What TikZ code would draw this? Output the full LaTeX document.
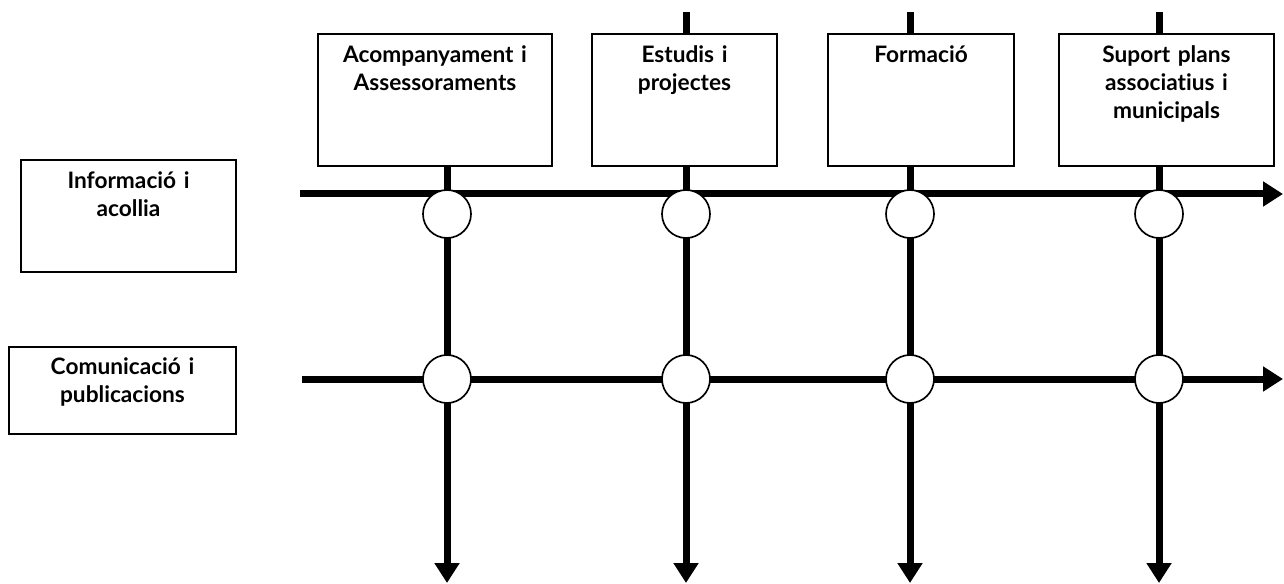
\documentclass[tikz,border=0pt]{standalone}
\usepackage{fontspec}
\setmainfont{Lato}[RawFeature={-liga;-clig;-dlig;-calt}]
\usetikzlibrary{arrows.meta, positioning}

\begin{document}
\begin{tikzpicture}[
  x=0.75pt, y=-0.75pt,
  every node/.style={font=\fontsize{17}{21}\selectfont\bfseries},
  tbox/.style={rectangle, draw, line width=1.5pt, fill=white, inner sep=0pt, align=center, anchor=north, text height=21.75pt, text depth=77.25pt},
  lbox/.style={rectangle, draw, line width=1.5pt, fill=white, inner sep=0pt, align=center, anchor=north},
  junc/.style={circle, draw, line width=1.25pt, fill=white, inner sep=0pt, minimum size=36pt},
  axis/.style={line width=5.25pt, -{Triangle[width=18pt, length=15pt]}},
]
\useasboundingbox (0,0) rectangle (1284,584);

% Line ends
\coordinate (top1) at (447,165);
\coordinate (top2) at (686,12);
\coordinate (top3) at (910,12);
\coordinate (top4) at (1159,12);
\coordinate (bot1) at (447,583);
\coordinate (bot2) at (686,583);
\coordinate (bot3) at (910,583);
\coordinate (bot4) at (1159,583);
\coordinate (hs1) at (300,194);
\coordinate (he1) at (1283,194);
\coordinate (hs2) at (302,379);
\coordinate (he2) at (1283,379);

% Axes
\draw[axis] (top1) -- (bot1);
\draw[axis] (top2) -- (bot2);
\draw[axis] (top3) -- (bot3);
\draw[axis] (top4) -- (bot4);
\draw[axis] (hs1) -- (he1);
\draw[axis] (hs2) -- (he2);

% Columns
\node[tbox, text width=175.5pt] (acomp) at (435,33) {Acompanyament i\\Assessoraments};
\node[tbox, text width=138.75pt] (estudis) at (684.5,33) {Estudis i\\projectes};
\node[tbox, text width=139.5pt] (formacio) at (921,33) {Formació};
\node[tbox, text width=161.25pt] (suport) at (1166.5,33) {Suport plans\\associatius i\\municipals};

% Rows
\node[lbox, text width=161.25pt, text height=21.75pt, text depth=62.25pt] (info) at (128.5,159) {Informació i\\acollia};
\node[lbox, text width=170.25pt, text height=20.25pt, text depth=45pt] (comun) at (122.5,346) {Comunicació i\\publicacions};

% Crossings
\node[junc] (j11) at (447,214) {};
\node[junc] (j12) at (686,214) {};
\node[junc] (j13) at (910,214) {};
\node[junc] (j14) at (1159,214) {};
\node[junc] (j21) at (447,379) {};
\node[junc] (j22) at (686,379) {};
\node[junc] (j23) at (910,379) {};
\node[junc] (j24) at (1159,379) {};

\end{tikzpicture}
\end{document}
